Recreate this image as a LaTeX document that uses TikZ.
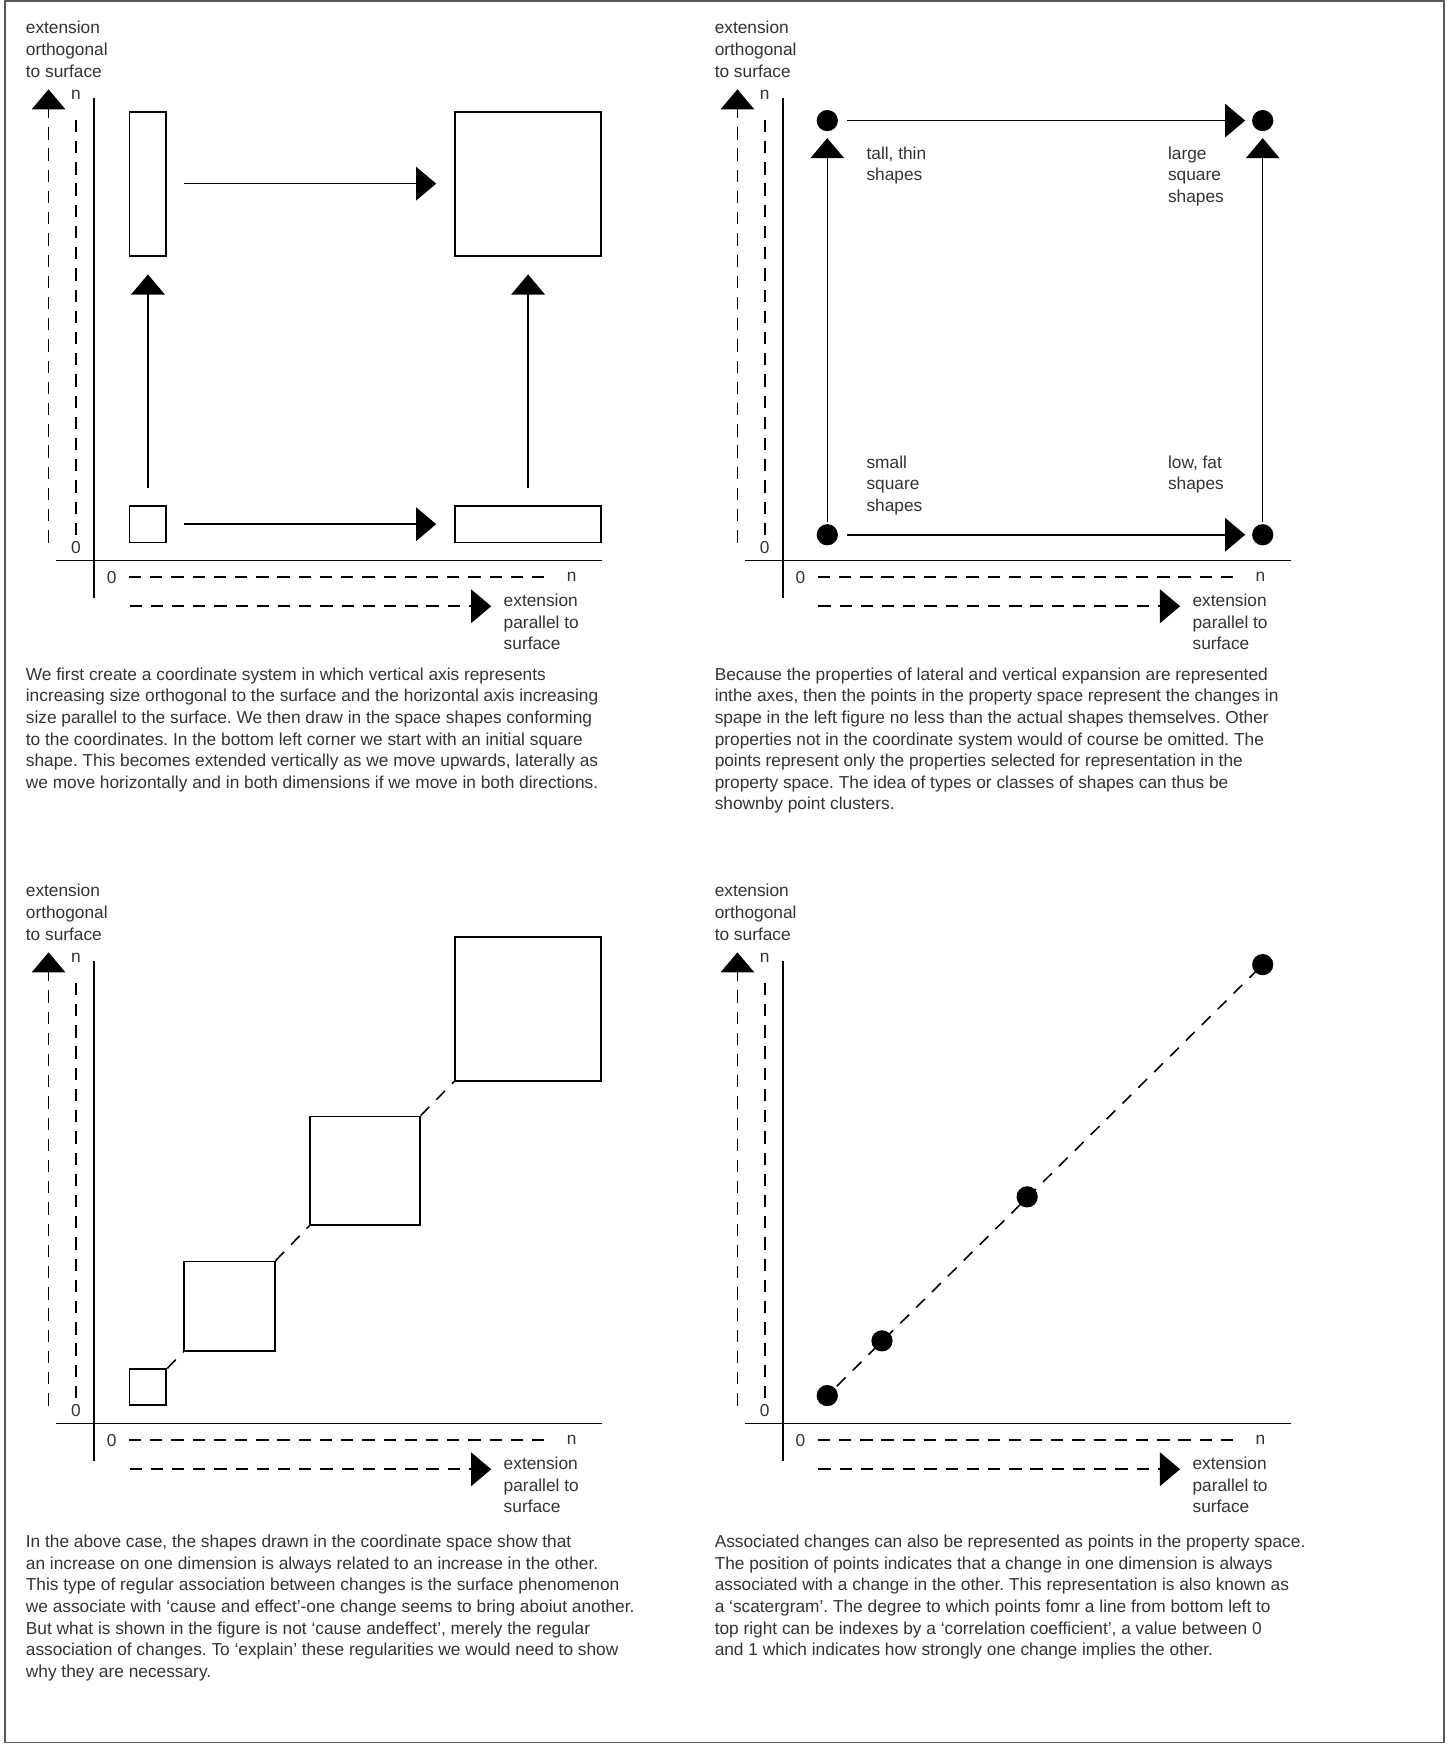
\documentclass[tikz,border=0pt]{standalone}
\usepackage{fontspec}
\setmainfont{Liberation Sans}
\usepackage{tikz}
\usetikzlibrary{positioning}
\usetikzlibrary{arrows.meta}

\begin{document}
\frenchspacing
\begin{tikzpicture}[x=1pt,y=-1pt,
		txt/.style={inner sep=0pt,text=black!80,font=\fontsize{15.5}{19.3}\selectfont},
		lbl/.style={txt,align=left,anchor=north west},
		box/.style={draw,line width=1.6pt,inner sep=0pt},
		dot/.style={circle,fill,inner sep=0pt,minimum size=19pt},
		axis/.style={line width=1.6pt},
		guide/.style={line width=1.5pt,dash pattern=on 11pt off 8pt},
		link/.style={line width=1.4pt,dash pattern=on 11pt off 9pt},
		arr/.style={line width=1.4pt,-{Triangle[length=18pt,width=30pt]}},
		darr/.style={guide,-{Triangle[length=18pt,width=30pt]}}]
		\useasboundingbox (0,0) rectangle (1296,1563);
		\draw[black!65,line width=1.2pt] (4.5,1) rectangle (1293.5,1560.5);
		
		% axes of the four panels
		\foreach \dx/\dy/\p in {0/0/a,617/0/b,0/773/c,617/773/d}{
			\begin{scope}[shift={(\dx,\dy)}]
				\node[lbl] (\p-yl) at (23,19) {extension\\orthogonal\\to surface};
				\node[txt] (\p-yn) at (68,85) {n};
				\node[txt] (\p-y0) at (68,490) {0};
				\node[txt] (\p-x0) at (100,517) {0};
				\node[txt] (\p-xn) at (512,517) {n};
				\node[lbl] (\p-xl) at (451,532) {extension\\parallel to\\surface};
				\coordinate (\p-ya) at (43.5,486);
				\coordinate (\p-yb) at (43.5,80);
				\coordinate (\p-xa) at (116,543);
				\coordinate (\p-xb) at (440,543);
				\draw[axis] (84,88) -- (84,536);
				\draw[axis] (50,502) -- (539,502);
				\draw[guide,shorten <=5pt,shorten >=11pt] (\p-y0) -- (\p-yn);
				\draw[guide,shorten <=11pt,shorten >=12pt] (\p-x0) -- (\p-xn);
				\draw[darr] (\p-ya) -- (\p-yb);
				\draw[darr] (\p-xa) -- (\p-xb);
			\end{scope}
		}
		
		% top left: shapes
		\node[box,minimum width=33pt,minimum height=33pt] (a1) at (132.5,469.5) {};
		\node[box,minimum width=33pt,minimum height=129pt] (a2) at (132.5,164.5) {};
		\node[box,minimum width=131pt,minimum height=129pt] (a3) at (473,164.5) {};
		\node[box,minimum width=131pt,minimum height=33pt] (a4) at (473,469.5) {};
		\draw[arr,shorten <=15pt,shorten >=16pt] (a2) -- (a3);
		\draw[arr,shorten <=15pt,shorten >=16pt] (a1) -- (a4);
		\draw[arr,shorten <=15pt,shorten >=16pt] (a1) -- (a2);
		\draw[arr,shorten <=15pt,shorten >=16pt] (a4) -- (a3);
		\node[lbl] (a-cap) at (23,598) {We first create a coordinate system in which vertical axis represents\\
			increasing size orthogonal to the surface and the horizontal axis increasing\\
			size parallel to the surface. We then draw in the space shapes conforming\\
			to the coordinates. In the bottom left corner we start with an initial square\\
			shape. This becomes extended vertically as we move upwards, laterally as\\
			we move horizontally and in both dimensions if we move in both directions.};
		
		% top right: points
		\node[dot] (b1) at (741,479) {};
		\node[dot] (b2) at (741,108) {};
		\node[dot] (b3) at (1131,108) {};
		\node[dot] (b4) at (1131,479) {};
		\draw[arr,shorten <=2pt,shorten >=6pt] (b1) -- (b2);
		\draw[arr,shorten <=2pt,shorten >=6pt] (b4) -- (b3);
		\draw[arr,shorten <=8pt,shorten >=6pt] (b2) -- (b3);
		\draw[arr,shorten <=8pt,shorten >=6pt] (b1) -- (b4);
		\node[lbl] (b2l) at (776,131) {tall, thin\\shapes};
		\node[lbl] (b3l) at (1046,131) {large\\square\\shapes};
		\node[lbl] (b1l) at (776,408) {small\\square\\shapes};
		\node[lbl] (b4l) at (1046,408) {low, fat\\shapes};
		\node[lbl] (b-cap) at (640,598) {Because the properties of lateral and vertical expansion are represented\\
			inthe axes, then the points in the property space represent the changes in\\
			spape in the left figure no less than the actual shapes themselves. Other\\
			properties not in the coordinate system would of course be omitted. The\\
			points represent only the properties selected for representation in the\\
			property space. The idea of types or classes of shapes can thus be\\
			shownby point clusters.};
		
		% bottom left: growing squares
		\node[box,minimum width=33pt,minimum height=32pt] (c1) at (132.5,1242.5) {};
		\node[box,minimum width=81pt,minimum height=80pt] (c2) at (205.5,1170) {};
		\node[box,minimum width=98pt,minimum height=97pt] (c3) at (327,1048.5) {};
		\node[box,minimum width=131pt,minimum height=129pt] (c4) at (473,903.5) {};
		\draw[link] (c1.north east) -- (c2.south west);
		\draw[link] (c2.north east) -- (c3.south west);
		\draw[link] (c3.north east) -- (c4.south west);
		\node[lbl] (c-cap) at (23,1375) {In the above case, the shapes drawn in the coordinate space show that\\
			an increase on one dimension is always related to an increase in the other.\\
			This type of regular association between changes is the surface phenomenon\\
			we associate with ‘cause and effect’-one change seems to bring aboiut another.\\
			But what is shown in the figure is not ‘cause andeffect’, merely the regular\\
			association of changes. To ‘explain’ these regularities we would need to show\\
			why they are necessary.};
		
		% bottom right: scatter
		\node[dot] (d1) at (741,1250) {};
		\node[dot] (d2) at (790,1201) {};
		\node[dot] (d3) at (920,1072) {};
		\node[dot] (d4) at (1131,864) {};
		\draw[link,shorten <=-8pt] (d1.center) -- (d4.center);
		\node[lbl] (d-cap) at (640,1375) {Associated changes can also be represented as points in the property space.\\
			The position of points indicates that a change in one dimension is always\\
			associated with a change in the other. This representation is also known as\\
			a ‘scatergram’. The degree to which points fomr a line from bottom left to\\
			top right can be indexes by a ‘correlation coefficient’, a value between 0\\
			and 1 which indicates how strongly one change implies the other.};
\end{tikzpicture}
\end{document}
